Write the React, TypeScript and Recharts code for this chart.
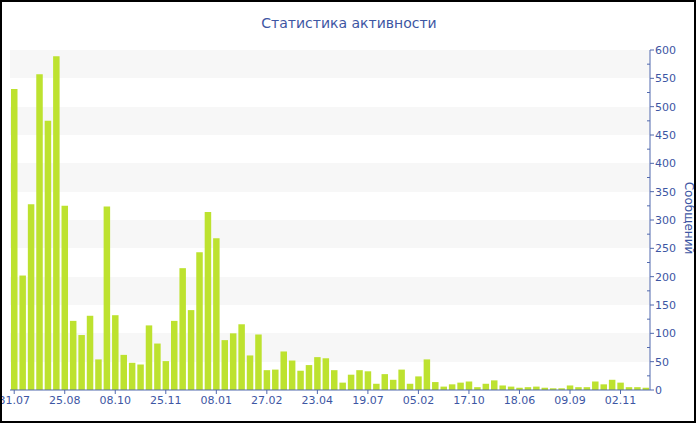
import { BarChart, Bar, XAxis, YAxis, CartesianGrid } from "recharts";

/* ── Data ── */

const tickLabels = [
  "31.07", "25.08", "08.10", "25.11", "08.01", "27.02", "23.04",
  "19.07", "05.02", "17.10", "18.06", "09.09", "02.11",
];

const messages = [
  531, 202, 328, 557, 475, 589, 325, 122, 97, 131, 54, 324,
  132, 62, 48, 45, 114, 82, 51, 122, 215, 141, 243, 314,
  268, 88, 100, 116, 61, 98, 35, 36, 68, 52, 34, 44,
  58, 56, 35, 13, 27, 35, 33, 11, 28, 18, 36, 11,
  24, 54, 14, 6, 10, 13, 15, 5, 11, 17, 8, 6,
  4, 5, 6, 4, 3, 3, 8, 5, 5, 15, 10, 18,
  13, 5, 5, 4,
];

const yTicks = [0, 25, 50, 75, 100, 125, 150, 175, 200, 225, 250, 275, 300, 325, 350, 375, 400, 425, 450, 475, 500, 525, 550, 575, 600];

const rows = messages.map((value, i) => ({
  date: i % 6 === 0 ? tickLabels[i / 6] : String(i),
  value,
}));

/* ── Styles ── */

const BLUE = "#3d56a3";
const AXIS = "#5169ae";
const FONT = "'DejaVu Sans', Verdana, sans-serif";

function RightTick(props: any) {
  const { x, y, payload } = props;
  const major = payload.value % 50 === 0;
  return (
    <g>
      {major ? (
        <line x1={x - 5} x2={x - 1} y1={y} y2={y} stroke={AXIS} />
      ) : (
        <line x1={x - 8} x2={x - 5} y1={y} y2={y} stroke={AXIS} />
      )}
      {major && (
        <text x={x} y={y} dy="0.36em" textAnchor="start" fill={BLUE} fontSize={11} fontFamily={FONT}>
          {payload.value}
        </text>
      )}
    </g>
  );
}

export default function App() {
  return (
    <div style={{ position: "relative", width: 700, height: 430, background: "#fff" }}>
      <style>{`body{margin:0}`}</style>
      <div
        style={{
          position: "absolute",
          left: 0,
          top: 0,
          width: 696,
          height: 423,
          boxSizing: "border-box",
          border: "2px solid #000",
          pointerEvents: "none",
          zIndex: 2,
        }}
      />
      <div
        style={{
          position: "absolute",
          top: 15,
          left: 0,
          width: 698,
          textAlign: "center",
          fontFamily: FONT,
          fontSize: 14,
          color: BLUE,
        }}
      >
        Статистика активности
      </div>
      <div
        style={{
          position: "absolute",
          left: 689,
          top: 218,
          transform: "translate(-50%, -50%) rotate(90deg)",
          fontFamily: FONT,
          fontSize: 12,
          color: BLUE,
          whiteSpace: "nowrap",
        }}
      >
        Сообщений
      </div>
      <div style={{ position: "absolute", left: 0, top: 0 }}>
        <BarChart
          width={700}
          height={430}
          data={rows}
          margin={{ top: 50, right: 10, left: 10, bottom: 10 }}
          barSize={6.5}
        >
          <CartesianGrid
            vertical={false}
            stroke="none"
            horizontalFill={["#f7f7f7", "#ffffff"]}
            horizontalValues={[0, 50, 100, 150, 200, 250, 300, 350, 400, 450, 500, 550, 600]}
          />
          <XAxis
            dataKey="date"
            interval={5}
            height={30}
            tickSize={4}
            stroke={AXIS}
            tick={{ fill: BLUE, fontSize: 11, fontFamily: FONT }}
          />
          <YAxis
            orientation="right"
            width={40}
            domain={[0, 600]}
            ticks={yTicks}
            interval={0}
            tickSize={4}
            tickMargin={1}
            tickLine={false}
            stroke={AXIS}
            tick={<RightTick />}
          />
          <Bar dataKey="value" fill="#bde22f" isAnimationActive={false} />
        </BarChart>
      </div>
    </div>
  );
}
